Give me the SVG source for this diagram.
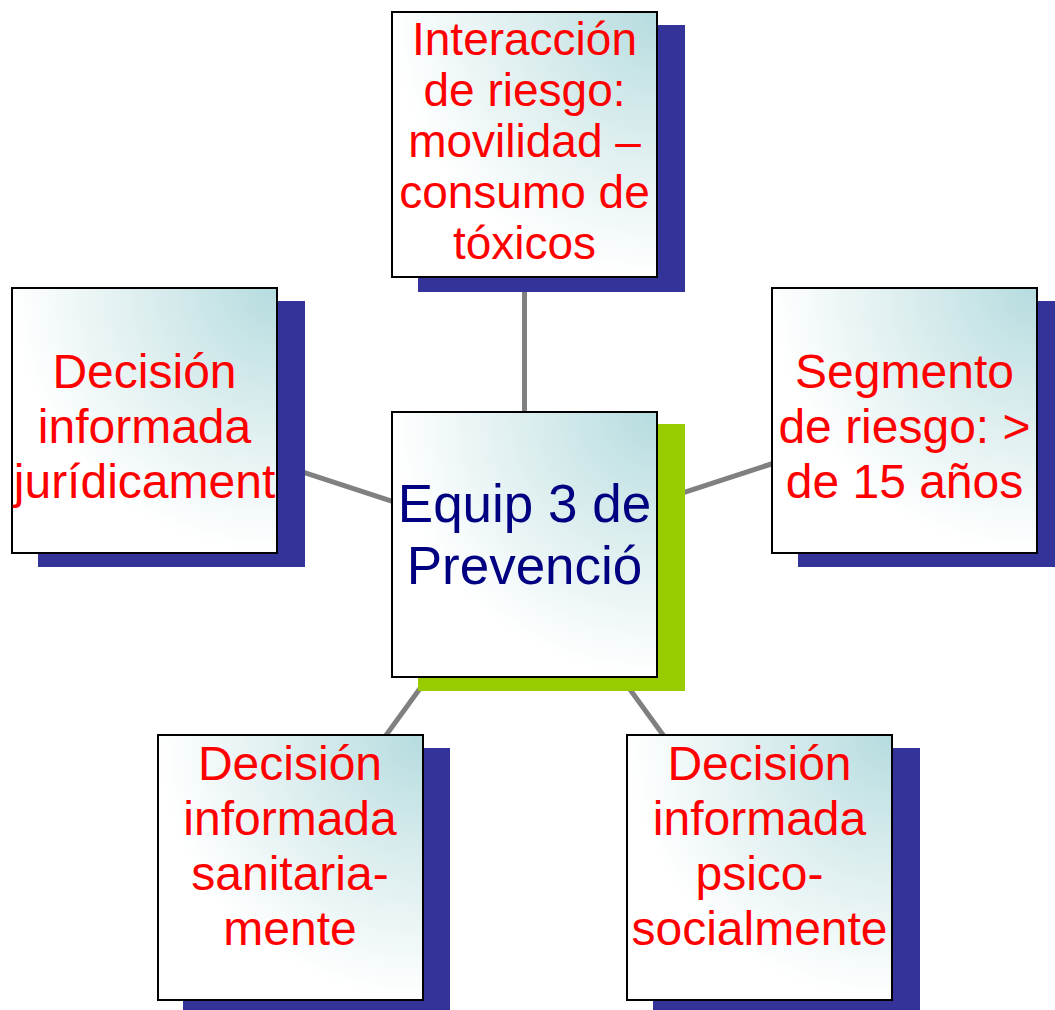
<svg xmlns="http://www.w3.org/2000/svg" width="1055" height="1010" viewBox="0 0 1055 1010">
<defs>
<radialGradient id="g" cx="1" cy="0" r="1" fx="1" fy="0">
<stop offset="0" stop-color="#b5dcdf"/>
<stop offset="0.45" stop-color="#d9eced"/>
<stop offset="1" stop-color="#ffffff"/>
</radialGradient>
</defs>
<style>
.box{fill:url(#g);stroke:#000;stroke-width:2}
.sh{fill:#333399}
.shg{fill:#99cc00}
.t{font-family:"Liberation Sans",Arial,sans-serif;font-size:48px;fill:#ff0000;text-anchor:middle}
.tt{font-size:46px}
.tc{font-family:"Liberation Sans",Arial,sans-serif;font-size:53px;fill:#000080;text-anchor:middle}
.c{stroke:#808080;stroke-width:5;fill:none}
</style>
<rect width="1055" height="1010" fill="#fff"/>
<g id="connectors">
<line class="c" x1="524.5" y1="544.5" x2="524.5" y2="144.5"/>
<line class="c" x1="524.5" y1="544.5" x2="144.5" y2="420.5"/>
<line class="c" x1="524.5" y1="544.5" x2="904.5" y2="420.5"/>
<line class="c" x1="524.5" y1="544.5" x2="290" y2="867.5"/>
<line class="c" x1="524.5" y1="544.5" x2="759.5" y2="867.5"/>
</g>
<g id="node-top">
<rect class="sh" x="418" y="25" width="267" height="267"/>
<rect class="box" x="392" y="12" width="265" height="265"/>
<text class="t tt" x="524.5"><tspan x="524.5" y="55">Interacción</tspan><tspan x="524.5" y="106">de riesgo:</tspan><tspan x="524.5" y="157">movilidad –</tspan><tspan x="524.5" y="208">consumo de</tspan><tspan x="524.5" y="259">tóxicos</tspan></text>
</g>
<g id="node-left">
<rect class="sh" x="38" y="301" width="267" height="266"/>
<rect class="box" x="12" y="288" width="265" height="265"/>
<text class="t"><tspan x="144.5" y="388">Decisión</tspan><tspan x="144.5" y="443">informada</tspan><tspan x="144.5" y="498">jurídicament</tspan></text>
</g>
<g id="node-right">
<rect class="sh" x="798" y="301" width="257" height="266"/>
<rect class="box" x="772" y="288" width="265" height="265"/>
<text class="t"><tspan x="904.5" y="388">Segmento</tspan><tspan x="904.5" y="443">de riesgo: &gt;</tspan><tspan x="904.5" y="498">de 15 años</tspan></text>
</g>
<g id="node-center">
<rect class="shg" x="418" y="424" width="267" height="267"/>
<rect class="box" x="392" y="412" width="265" height="265"/>
<text class="tc"><tspan x="524.5" y="522">Equip 3 de</tspan><tspan x="524.5" y="584">Prevenció</tspan></text>
</g>
<g id="node-bottom-left">
<rect class="sh" x="183" y="748" width="267" height="262"/>
<rect class="box" x="158" y="735" width="265" height="265"/>
<text class="t"><tspan x="290" y="780">Decisión</tspan><tspan x="290" y="835">informada</tspan><tspan x="290" y="890">sanitaria-</tspan><tspan x="290" y="945">mente</tspan></text>
</g>
<g id="node-bottom-right">
<rect class="sh" x="653" y="748" width="267" height="262"/>
<rect class="box" x="627" y="735" width="265" height="265"/>
<text class="t"><tspan x="759.5" y="780">Decisión</tspan><tspan x="759.5" y="835">informada</tspan><tspan x="759.5" y="890">psico-</tspan><tspan x="759.5" y="945">socialmente</tspan></text>
</g>
</svg>
